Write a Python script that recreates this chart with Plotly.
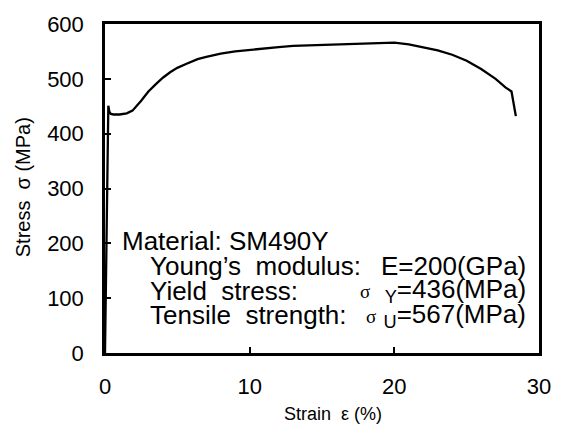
import plotly.graph_objects as go

strain = [0, 0.10, 0.20, 0.23, 0.30, 0.40, 0.60, 1.0, 1.5, 1.9, 2.5, 3.0, 3.5, 4.0, 4.5, 5.0, 5.6,
          6.4, 7.0, 8.0, 9.0, 10.0, 11.0, 12.0, 13.0, 14.0, 15.0, 16.0, 17.0, 18.0, 19.0, 20.0,
          21.0, 22.0, 23.0, 24.0, 25.0, 26.0, 27.0, 27.7, 28.1, 28.4]
stress = [0, 220, 430, 451, 440, 436, 435, 435, 437, 442, 460, 477, 490, 502, 512, 520, 527,
          536, 540, 546, 550, 553, 556, 558, 560, 561, 562, 563, 564, 565, 566, 566,
          563, 558, 552, 544, 533, 518, 500, 484, 477, 432]

x_ticks = [0, 10, 20, 30]
y_ticks = [0, 100, 200, 300, 400, 500, 600]

FONT = "Liberation Sans, Arial, sans-serif"
SERIF = "Liberation Serif, Times New Roman, serif"

fig = go.Figure()
fig.add_trace(go.Scatter(x=strain, y=stress, mode="lines",
                         line=dict(color="black", width=2.3), showlegend=False))

left_lines = [
    ("Material: SM490Y", 120, 240),
    ("Young\u2019s  modulus:", 148, 265),
    ("Yield  stress:", 148, 290),
    ("Tensile  strength:", 148, 315),
]
right_lines = [
    ("E=200(GPa)", 265),
    (f"<span style='font-family:{SERIF};font-size:19px'>\u03c3</span>&nbsp; <sub>Y</sub>=436(MPa)", 290),
    (f"<span style='font-family:{SERIF};font-size:19px'>\u03c3</span> <sub>U</sub>=567(MPa)", 315),
]

L, R, T, B = 105, 543, 21, 353
def px(xp):
    return (xp - L) / (R - L)
def py(yp):
    return (B - yp) / (B - T)

ann = []
for txt, xp, yp in left_lines:
    ann.append(dict(text=txt, x=px(xp), y=py(yp), xref="paper", yref="paper",
                    xanchor="left", yanchor="middle", showarrow=False,
                    font=dict(family=FONT, size=26, color="black")))
for txt, yp in right_lines:
    ann.append(dict(text=txt, x=px(532), y=py(yp), xref="paper", yref="paper",
                    xanchor="right", yanchor="middle", showarrow=False,
                    font=dict(family=FONT, size=26, color="black")))
# axis titles
ann.append(dict(text="Strain  \u03b5 (%)", x=px(335), y=py(415), xref="paper", yref="paper",
                xanchor="center", yanchor="middle", showarrow=False,
                font=dict(family=FONT, size=18, color="black")))
ann.append(dict(text="Stress  \u03c3 (MPa)", x=px(22), y=py(186), xref="paper", yref="paper",
                xanchor="center", yanchor="middle", showarrow=False, textangle=-90,
                font=dict(family=FONT, size=20, color="black")))

fig.update_layout(
    width=563, height=436,
    margin=dict(l=L, r=563 - R, t=T, b=436 - B),
    paper_bgcolor="white", plot_bgcolor="white",
    font=dict(family=FONT, color="black"),
    annotations=ann,
    xaxis=dict(range=[0, 30], tickvals=x_ticks, ticks="inside", ticklen=6, tickwidth=1.5,
               tickcolor="black", showline=True, linewidth=2.5, linecolor="black", mirror=True,
               showgrid=False, zeroline=False, tickfont=dict(size=22, family=FONT),
               ticklabelstandoff=12),
    yaxis=dict(range=[0, 600], tickvals=y_ticks, ticks="inside", ticklen=6, tickwidth=1.5,
               tickcolor="black", showline=True, linewidth=2.5, linecolor="black", mirror=True,
               showgrid=False, zeroline=False, tickfont=dict(size=22, family=FONT),
               ticklabelstandoff=14),
)

fig.write_html("out.html")
